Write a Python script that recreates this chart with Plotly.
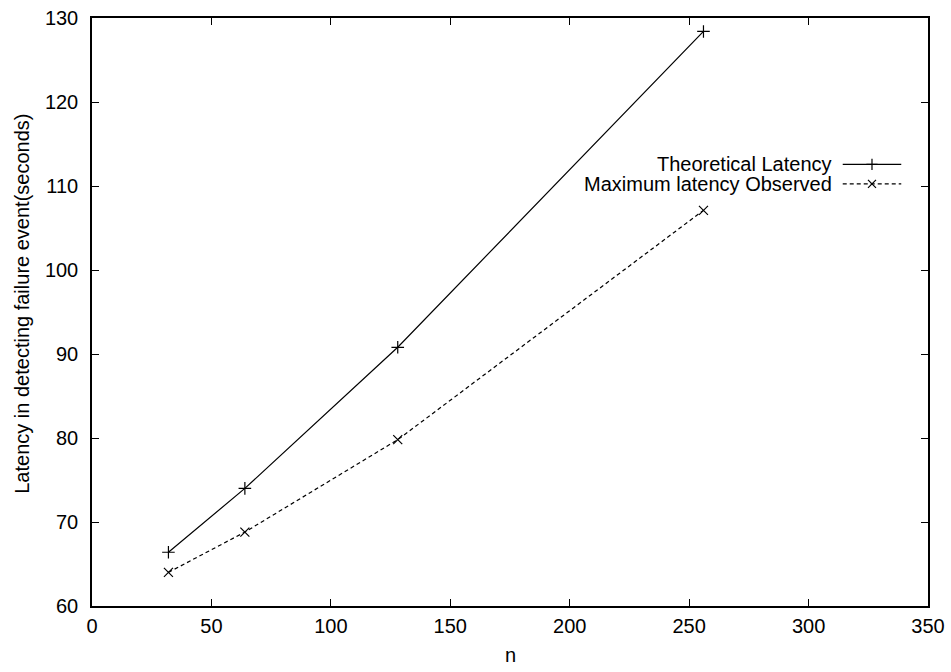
import plotly.graph_objects as go

# Group size n and detection latency (seconds)
n_values = [32, 64, 128, 256]
theoretical_latency = [66.4, 74.0, 90.8, 128.4]
observed_latency = [64.0, 68.8, 79.8, 107.1]

series_names = ["Theoretical Latency", "Maximum latency Observed"]
x_title = "n"
y_title = "Latency in detecting failure event(seconds)"

x_ticks = [0, 50, 100, 150, 200, 250, 300, 350]
y_ticks = [60, 70, 80, 90, 100, 110, 120, 130]

FONT = dict(family="Liberation Sans, Arial, sans-serif", size=20, color="black")

fig = go.Figure()

fig.add_trace(go.Scatter(
    x=n_values, y=theoretical_latency, mode="lines+markers",
    name=series_names[0],
    line=dict(color="black", width=1.2),
    marker=dict(symbol="cross-thin", size=9, line=dict(color="black", width=1.2)),
    showlegend=False,
))
fig.add_trace(go.Scatter(
    x=n_values, y=observed_latency, mode="lines+markers",
    name=series_names[1],
    line=dict(color="black", width=1.2, dash="4px,3px"),
    marker=dict(symbol="x-thin", size=9, line=dict(color="black", width=1.2)),
    showlegend=False,
))

# Key drawn gnuplot-style: label right-aligned, sample line to its right
key_rows = [
    (series_names[0], 0.751, "solid", "cross-thin"),
    (series_names[1], 0.718, "4px,3px", "x-thin"),
]
for label, yk, dash, sym in key_rows:
    fig.add_trace(go.Scatter(
        x=[0.898, 0.933, 0.968], y=[yk, yk, yk], mode="lines",
        xaxis="x2", yaxis="y2", showlegend=False, hoverinfo="skip",
        line=dict(color="black", width=1.2, dash=dash),
    ))
    fig.add_trace(go.Scatter(
        x=[0.933], y=[yk], mode="markers",
        xaxis="x2", yaxis="y2", showlegend=False, hoverinfo="skip",
        marker=dict(symbol=sym, size=8, line=dict(color="black", width=1.2)),
    ))
    fig.add_annotation(
        x=0.887, y=yk, xref="x2", yref="y2", text=label, showarrow=False,
        xanchor="right", yanchor="middle", font=FONT,
    )

# Axis titles placed relative to the plotting area
fig.add_annotation(
    x=0.5, y=0, xref="paper", yref="paper", yshift=-49, text=x_title,
    showarrow=False, xanchor="center", yanchor="middle", font=FONT,
)
fig.add_annotation(
    x=0, y=0.514, xref="paper", yref="paper", xshift=-70, text=y_title,
    textangle=-90, showarrow=False, xanchor="center", yanchor="middle", font=FONT,
)

axis_common = dict(
    showgrid=False, zeroline=False, showline=True, linecolor="black", linewidth=1.5,
    mirror="ticks", ticks="inside", ticklen=7, tickwidth=1, tickcolor="black",
    tickfont=FONT, automargin=False,
)

fig.update_layout(
    width=951, height=672,
    margin=dict(l=92, r=23, t=18, b=66),
    paper_bgcolor="white", plot_bgcolor="white",
    font=FONT,
    xaxis=dict(
        range=[0, 350], tickvals=x_ticks, ticktext=[str(v) for v in x_ticks],
        ticklabelstandoff=1, **axis_common,
    ),
    yaxis=dict(
        range=[60, 130], tickvals=y_ticks, ticktext=[str(v) for v in y_ticks],
        ticklabelstandoff=8, **axis_common,
    ),
    xaxis2=dict(range=[0, 1], overlaying="x", visible=False, fixedrange=True),
    yaxis2=dict(range=[0, 1], overlaying="y", visible=False, fixedrange=True),
)

fig.write_html("out.html")
